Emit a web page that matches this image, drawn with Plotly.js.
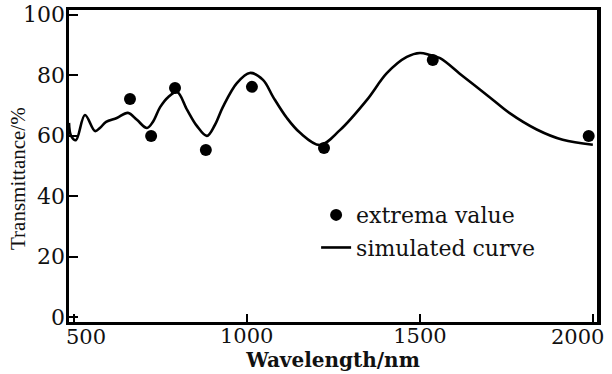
<!DOCTYPE html>
<html>
<head>
<meta charset="utf-8">
<script src="https://cdn.plot.ly/plotly-3.0.1.min.js"></script>
<style>html,body{margin:0;padding:0;background:#fff;}#chart{width:612px;height:374px;}</style>
</head>
<body>
<div id="chart"></div>
<script>
// Simulated transmittance curve (wavelength nm, transmittance %)
const curveWavelength = [487, 493, 507, 533, 562, 576, 594, 625, 657, 683, 712, 729, 750, 773, 799, 828, 856, 885, 908, 931, 972, 1009, 1047, 1076, 1116, 1154, 1211, 1269, 1347, 1405, 1462, 1500, 1529, 1558, 1624, 1702, 1759, 1837, 1912, 1999];
const curveTransmittance = [64.2, 59.9, 58.5, 66.8, 61.5, 62.5, 64.5, 65.8, 67.5, 65.2, 62.5, 64.5, 69.4, 72.7, 74.4, 68.5, 63.2, 59.9, 63.5, 69.4, 77.4, 80.7, 78.4, 72.8, 65.8, 60.9, 56.9, 61.8, 71.8, 80.7, 86.0, 87.3, 86.6, 85.6, 79.6, 72.6, 67.4, 62.0, 58.6, 57.0];
// Measured extrema
const extremaWavelength = [663, 724, 793, 882, 1015, 1223, 1537, 1987];
const extremaTransmittance = [72.1, 59.9, 75.7, 55.2, 76.1, 55.9, 85.0, 59.9];
// Ticks
const xTickValues = [500, 1000, 1500, 2000];
const xTickLabels = ['500', '1000', '1500', '2000'];
const yTickValues = [0, 20, 40, 60, 80, 100];
const yTickLabels = ['0', '20', '40', '60', '80', '100'];
const seriesNames = ['extrema value', 'simulated curve'];
const xTitle = 'Wavelength/nm';
const yTitle = 'Transmittance/%';

const serif = 'DejaVu Serif, serif';
const last = xTickLabels.length - 1;
// the two end labels are placed beside their ticks (as in the original),
// so they are drawn as anchored annotations instead of centred tick text
const xTickText = xTickLabels.map((t, i) => (i === 0 || i === last) ? '' : t);

const traces = [
  {
    x: extremaWavelength, y: extremaTransmittance, name: seriesNames[0],
    type: 'scatter', mode: 'markers',
    marker: {color: '#000', size: 12, symbol: 'circle'},
    legendgroup: 'a'
  },
  {
    x: curveWavelength, y: curveTransmittance, name: seriesNames[1],
    type: 'scatter', mode: 'lines',
    line: {color: '#000', width: 2.6, shape: 'spline', smoothing: 1},
    legendgroup: 'b'
  }
];

const endLabel = (i, anchor, shift) => ({
  text: xTickLabels[i], xref: 'x', yref: 'paper',
  x: xTickValues[i], y: 0, xanchor: anchor, yanchor: 'top',
  xshift: shift, yshift: -1, showarrow: false,
  font: {family: serif, size: 21, color: '#111'}
});

const layout = {
  width: 612, height: 374,
  margin: {l: 69, r: 15, t: 10, b: 52},
  paper_bgcolor: '#fff', plot_bgcolor: '#fff',
  showlegend: true,
  legend: {
    x: 0.468, y: 0.41, xanchor: 'left', yanchor: 'top',
    font: {family: serif, size: 22, color: '#111'},
    bgcolor: 'rgba(0,0,0,0)', traceorder: 'grouped', tracegroupgap: 1,
    itemwidth: 30
  },
  xaxis: {
    range: [487, 2011], tickvals: xTickValues, ticktext: xTickText,
    showgrid: false, zeroline: false,
    showline: true, linecolor: '#000', linewidth: 3, mirror: true,
    ticks: 'inside', ticklen: 8, tickwidth: 2, tickcolor: '#000',
    tickfont: {family: serif, size: 21, color: '#111'},
    ticklabelstandoff: -7,
    title: {text: xTitle, font: {family: serif, size: 20, color: '#111', weight: 'bold'}, standoff: 0},
    automargin: false
  },
  yaxis: {
    range: [-1.6, 101.5], tickvals: yTickValues, ticktext: yTickLabels,
    showgrid: false, zeroline: false,
    showline: true, linecolor: '#000', linewidth: 3.5, mirror: true,
    ticks: 'inside', ticklen: 9, tickwidth: 2, tickcolor: '#000',
    tickfont: {family: serif, size: 22, color: '#111'},
    ticklabelstandoff: -4,
    automargin: false
  },
  annotations: [
    {
      text: yTitle, xref: 'paper', yref: 'paper',
      x: -0.0966, y: 0.4615, xanchor: 'center', yanchor: 'middle',
      textangle: -90, showarrow: false,
      font: {family: 'Liberation Serif, serif', size: 21, color: '#111'}
    },
    endLabel(0, 'left', -10),
    endLabel(last, 'right', 13)
  ]
};

Plotly.newPlot('chart', traces, layout, {displayModeBar: false, staticPlot: true});
</script>
</body>
</html>
